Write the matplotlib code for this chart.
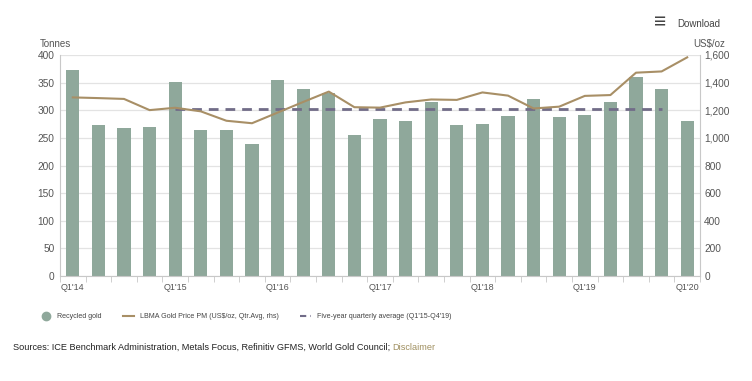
import numpy as np
import matplotlib.pyplot as plt
from matplotlib.lines import Line2D

plt.rcParams['font.family'] = ['Liberation Sans', 'DejaVu Sans']

quarters = ["Q1'14", "Q2'14", "Q3'14", "Q4'14",
            "Q1'15", "Q2'15", "Q3'15", "Q4'15",
            "Q1'16", "Q2'16", "Q3'16", "Q4'16",
            "Q1'17", "Q2'17", "Q3'17", "Q4'17",
            "Q1'18", "Q2'18", "Q3'18", "Q4'18",
            "Q1'19", "Q2'19", "Q3'19", "Q4'19",
            "Q1'20"]
recycled = [373, 274, 268, 270,
            351, 265, 264, 239,
            354, 339, 332, 256,
            285, 280, 315, 274,
            276, 290, 320, 288,
            292, 315, 361, 339,
            280]
gold_price = [1293, 1288, 1282, 1201,
              1218, 1192, 1124, 1106,
              1183, 1260, 1335, 1222,
              1219, 1257, 1278, 1275,
              1329, 1306, 1213, 1226,
              1304, 1310, 1472, 1481,
              1583]
avg_start, avg_end = "Q1'15", "Q4'19"

bar_color = '#8fa89b'
line_color = '#a88f66'
avg_color = '#716c88'
grid_color = '#e3e3e3'
text_color = '#555555'

x = np.arange(len(quarters))
i0, i1 = quarters.index(avg_start), quarters.index(avg_end)
five_year_avg = np.mean(recycled[i0:i1 + 1])

fig = plt.figure(figsize=(7.52, 3.81), dpi=100)
ax1 = fig.add_axes([60 / 752, 1 - 276 / 381, 640 / 752, 221 / 381])

ax1.bar(x, recycled, width=0.52, color=bar_color, zorder=2)
ax1.plot(x[i0:i1 + 1], [five_year_avg] * (i1 - i0 + 1), color=avg_color,
         lw=2, dashes=(3.5, 2.5), zorder=3)
ax1.set_xlim(-0.5, len(quarters) - 0.5)
ax1.set_ylim(0, 400)
ax1.set_yticks(range(0, 401, 50))
ax1.yaxis.grid(True, color=grid_color, lw=0.9, zorder=0)
ax1.set_axisbelow(True)

ax2 = ax1.twinx()
ax2.plot(x, gold_price, color=line_color, lw=1.5, zorder=4)
ax2.set_ylim(0, 1600)
ax2.set_yticks(range(0, 1601, 200))
ax2.set_yticklabels([f'{v:,}' for v in range(0, 1601, 200)])

for a in (ax1, ax2):
    for s in a.spines.values():
        s.set_visible(False)
ax1.spines['left'].set_visible(True)
ax1.spines['left'].set_color('#c8c8c8')
ax1.spines['bottom'].set_visible(True)
ax1.spines['bottom'].set_color('#c8c8c8')
ax2.spines['right'].set_visible(True)
ax2.spines['right'].set_color('#c8c8c8')

ax1.tick_params(axis='y', length=0, labelsize=7.3, labelcolor=text_color, pad=4)
ax2.tick_params(axis='y', length=0, labelsize=7.3, labelcolor=text_color, pad=3)

ax1.set_xticks(x[::4])
ax1.set_xticklabels(quarters[::4])
ax1.set_xticks(np.arange(-0.5, len(quarters), 1), minor=True)
ax1.tick_params(axis='x', which='major', length=0, labelsize=6.5,
                labelcolor=text_color, pad=5)
ax1.tick_params(axis='x', which='minor', length=4, color='#c8c8c8')

fig.text(40 / 752, 1 - 44 / 381, 'Tonnes', fontsize=7, color=text_color,
         va='center', ha='left')
fig.text(725 / 752, 1 - 44 / 381, 'US$/oz', fontsize=7, color=text_color,
         va='center', ha='right')

# download menu
fig.text(720 / 752, 1 - 24 / 381, 'Download', fontsize=7, color='#444444',
         va='center', ha='right')
fig.text(660 / 752, 1 - 23 / 381, '\u2261', fontsize=15, color='#444444',
         va='center', ha='center', fontweight='bold')

handles = [
    Line2D([], [], marker='o', ls='none', color=bar_color, markersize=6),
    Line2D([], [], color=line_color, lw=1.5),
    Line2D([], [], color=avg_color, lw=1.5, dashes=(3, 2)),
]
labels = ['Recycled gold', 'LBMA Gold Price PM (US$/oz, Qtr.Avg, rhs)',
          'Five-year quarterly average (Q1\'15-Q4\'19)']
fig.legend(handles, labels, loc='center left', bbox_to_anchor=(34 / 752, 1 - 317 / 381),
           ncol=3, frameon=False, fontsize=5.1, handlelength=1.5,
           handletextpad=0.9, columnspacing=3.0, labelcolor='#444444')

t = fig.text(13 / 752, 1 - 347 / 381,
             'Sources: ICE Benchmark Administration, Metals Focus, Refinitiv GFMS, World Gold Council; ',
             fontsize=6.6, color='#222222', va='center', ha='left')
fig.canvas.draw()
bb = t.get_window_extent()
fig.text(bb.x1 / fig.bbox.width, 1 - 347 / 381, 'Disclaimer', fontsize=6.6,
         color='#a09060', va='center', ha='left')

fig.savefig('out.png', dpi=100)
